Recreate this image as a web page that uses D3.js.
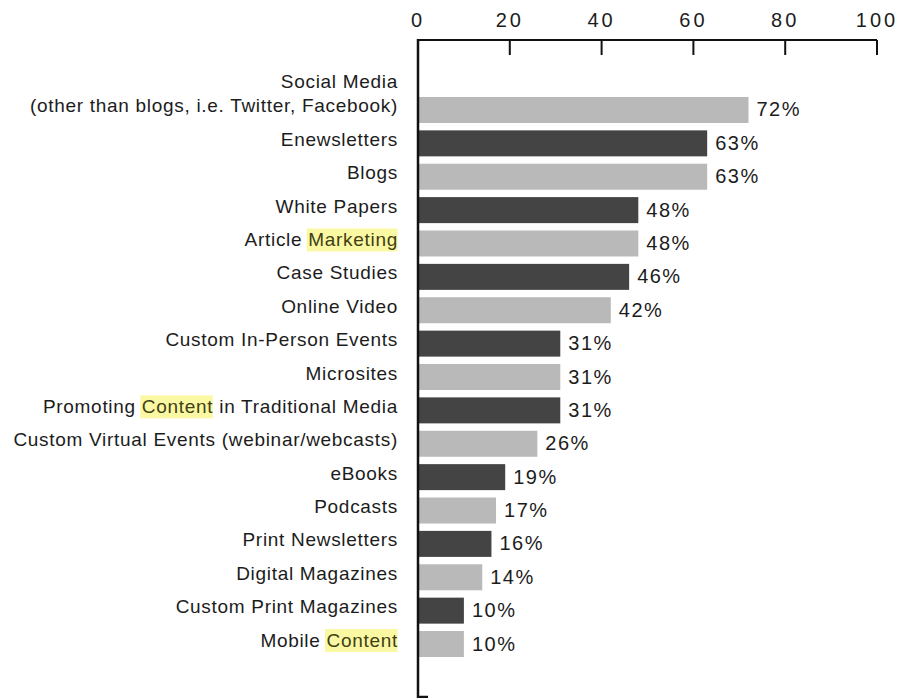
<!DOCTYPE html>
<html>
<head>
<meta charset="utf-8">
<script src="https://cdn.jsdelivr.net/npm/d3@7"></script>
<style>
  html, body { margin: 0; padding: 0; background: #ffffff; }
  svg { display: block; }
  text { font-family: "Liberation Sans", Arial, Helvetica, sans-serif; }
</style>
</head>
<body>
<svg id="chart" width="899" height="698"></svg>
<script>
// ---- data ----
const categories = [
  "Social Media|(other than blogs, i.e. Twitter, Facebook)",
  "Enewsletters",
  "Blogs",
  "White Papers",
  "Article Marketing",
  "Case Studies",
  "Online Video",
  "Custom In-Person Events",
  "Microsites",
  "Promoting Content in Traditional Media",
  "Custom Virtual Events (webinar/webcasts)",
  "eBooks",
  "Podcasts",
  "Print Newsletters",
  "Digital Magazines",
  "Custom Print Magazines",
  "Mobile Content"
];
const values = [72, 63, 63, 48, 48, 46, 42, 31, 31, 31, 26, 19, 17, 16, 14, 10, 10];
const highlightWords = ["", "", "", "", "Marketing", "", "", "", "", "Content", "", "", "", "", "", "", "Content"];
const tickValues = [0, 20, 40, 60, 80, 100];
const barColors = ["#b9b9b9", "#444444"];

// ---- layout ----
const svg = d3.select("#chart");
const x = d3.scaleLinear().domain([0, 100]).range([418, 877]);
const y = d3.scaleBand().domain(categories).range([89.6, 664.4]).padding(0.221);

// bars
svg.append("g").selectAll("rect")
  .data(categories)
  .join("rect")
  .attr("x", x(0) + 1)
  .attr("y", d => y(d))
  .attr("width", (d, i) => x(values[i]) - x(0) - 1)
  .attr("height", y.bandwidth())
  .attr("fill", (d, i) => barColors[i % 2]);

// value labels
svg.append("g").selectAll("text")
  .data(categories)
  .join("text")
  .attr("x", (d, i) => x(values[i]) + 8)
  .attr("y", d => y(d) + y.bandwidth() / 2 + 6.5)
  .attr("font-size", 20)
  .attr("letter-spacing", 1.5)
  .attr("fill", "#1c1c1c")
  .text((d, i) => values[i] + "%");

// category labels with highlights
const hlLayer = svg.append("g");
const labelG = svg.append("g");
categories.forEach((cat, i) => {
  const lines = cat.split("|");
  const cy = y(cat) + y.bandwidth() / 2;
  lines.forEach((line, li) => {
    const baseY = cy + 2.5 - (lines.length - 1 - li) * 24.5;
    const t = labelG.append("text")
      .attr("x", 398)
      .attr("y", baseY)
      .attr("text-anchor", "end")
      .attr("font-size", 19)
      .attr("letter-spacing", 0.7)
      .attr("fill", "#1c1c1c");
    const hw = highlightWords[i];
    const idx = hw ? line.indexOf(hw) : -1;
    if (idx >= 0) {
      const pre = line.slice(0, idx), post = line.slice(idx + hw.length);
      if (pre) t.append("tspan").text(pre);
      t.append("tspan").attr("fill", "#3f3f12").text(hw);
      if (post) t.append("tspan").text(post);
      const node = t.node();
      const a = node.getExtentOfChar(idx);
      const b = node.getExtentOfChar(idx + hw.length - 1);
      hlLayer.append("rect")
        .attr("x", a.x - 1.5)
        .attr("y", baseY - 17.5)
        .attr("width", b.x + b.width - a.x + 1)
        .attr("height", 23)
        .attr("fill", "#fbf8a4");
    } else {
      t.text(line);
    }
  });
});

// top axis
const axisG = svg.append("g");
axisG.append("line")
  .attr("x1", x(0)).attr("x2", x(100))
  .attr("y1", 40).attr("y2", 40)
  .attr("stroke", "#111").attr("stroke-width", 2);
axisG.selectAll("line.tick")
  .data(tickValues.slice(1))
  .join("line")
  .attr("class", "tick")
  .attr("x1", d => x(d)).attr("x2", d => x(d))
  .attr("y1", 40).attr("y2", 55)
  .attr("stroke", "#111").attr("stroke-width", 2);
axisG.selectAll("text")
  .data(tickValues)
  .join("text")
  .attr("x", d => x(d))
  .attr("y", 27)
  .attr("text-anchor", "middle")
  .attr("font-size", 20)
  .attr("letter-spacing", 3)
  .attr("fill", "#1c1c1c")
  .text(d => d);

// vertical axis line with foot
axisG.append("path")
  .attr("d", `M${x(0)},39 V697 H${x(0) + 10}`)
  .attr("fill", "none")
  .attr("stroke", "#111")
  .attr("stroke-width", 2.5);
</script>
</body>
</html>
